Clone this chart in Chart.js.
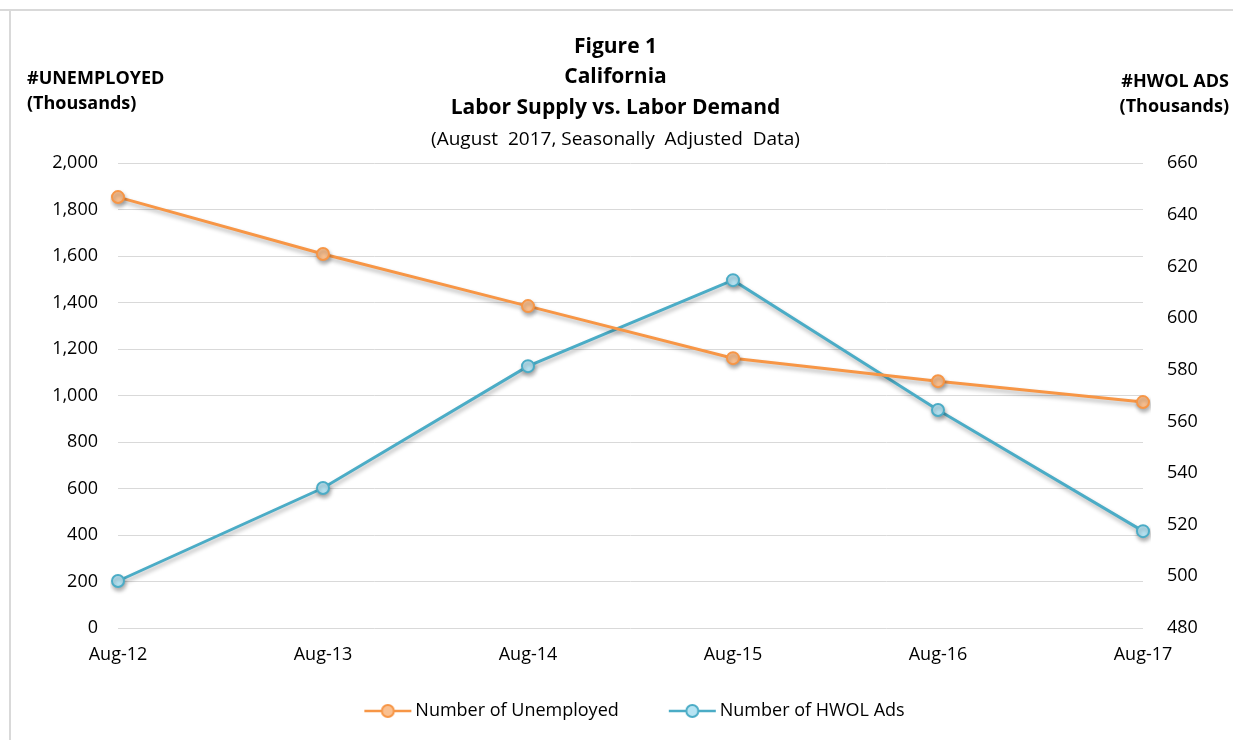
<!DOCTYPE html>
<html>
<head>
<meta charset="utf-8">
<script src="https://cdn.jsdelivr.net/npm/chart.js@4.4.0/dist/chart.umd.min.js"></script>
<style>
  body { margin: 0; background: #fff; }
  #wrap { width: 1233px; height: 740px; }
</style>
</head>
<body>
<div id="wrap"><canvas id="chart" width="1233" height="740"></canvas></div>
<script>
// data
var categories = ["Aug-12", "Aug-13", "Aug-14", "Aug-15", "Aug-16", "Aug-17"];
var unemployed = [1854, 1609, 1385, 1161, 1062, 972];     // thousands, left axis
var hwolAds = [498.2, 534.2, 581.4, 614.7, 564.4, 517.5];  // thousands, right axis
var leftTicks = [0, 200, 400, 600, 800, 1000, 1200, 1400, 1600, 1800, 2000];
var rightTicks = [480, 500, 520, 540, 560, 580, 600, 620, 640, 660];

var titleFont = "'Liberation Sans Narrow', 'Open Sans', sans-serif";
var tickFont = "'Open Sans', 'Noto Sans', sans-serif";
var orange = "#F79646", orangeFill = "#FAC090";
var blue = "#4BACC6", blueFill = "#B7E4F3";

// legend icon: line with a marker in the middle, blank gap on the left
// (canvas is wider than pointStyleWidth so the line sits close to the text)
function legendIcon(line, fill) {
    var c = document.createElement("canvas");
    c.width = 96; c.height = 16;
    var x = c.getContext("2d");
    x.strokeStyle = line; x.lineWidth = 2.5;
    x.beginPath(); x.moveTo(46, 8); x.lineTo(93, 8); x.stroke();
    x.beginPath(); x.arc(69.5, 8, 6, 0, Math.PI * 2);
    x.fillStyle = fill; x.fill(); x.lineWidth = 2; x.stroke();
    return c;
}

var frameAndLabels = {
    id: "frameAndLabels",
    beforeDraw: function (chart) {
        var ctx = chart.ctx;
        ctx.save();
        ctx.fillStyle = "#d9d9d9";
        ctx.fillRect(0, 9, 1233, 2);
        ctx.fillRect(9, 9, 2, 731);
        ctx.restore();
    },
    afterDraw: function (chart) {
        var ctx = chart.ctx;
        ctx.save();
        ctx.fillStyle = "#000";
        ctx.font = "bold 18px " + titleFont;
        ctx.textBaseline = "middle";
        ctx.textAlign = "left";
        ctx.fillText("#UNEMPLOYED", 27, 79);
        ctx.fillText("(Thousands)", 27, 104);
        ctx.textAlign = "right";
        ctx.fillText("#HWOL ADS", 1229, 82);
        ctx.fillText("(Thousands)", 1229, 107);
        ctx.restore();
    },
    beforeDatasetsDraw: function (chart) {
        var ctx = chart.ctx;
        ctx.save();
        ctx.shadowColor = "rgba(0,0,0,0.3)";
        ctx.shadowBlur = 4;
        ctx.shadowOffsetX = 1;
        ctx.shadowOffsetY = 3;
    },
    afterDatasetsDraw: function (chart) {
        chart.ctx.restore();
    }
};

new Chart(document.getElementById("chart"), {
    type: "line",
    data: {
        labels: categories,
        datasets: [{
            label: "Number of Unemployed",
            data: unemployed,
            yAxisID: "y",
            borderColor: orange,
            backgroundColor: orangeFill,
            pointBackgroundColor: orangeFill,
            pointBorderColor: orange,
            pointBorderWidth: 2,
            pointRadius: 6,
            borderWidth: 3,
            tension: 0
        }, {
            label: "Number of HWOL Ads",
            data: hwolAds,
            yAxisID: "y1",
            borderColor: blue,
            backgroundColor: blueFill,
            pointBackgroundColor: blueFill,
            pointBorderColor: blue,
            pointBorderWidth: 2,
            pointRadius: 6,
            borderWidth: 3,
            tension: 0
        }]
    },
    options: {
        responsive: false,
        animation: false,
        layout: { padding: { top: 5, left: 10, right: 12, bottom: 10 } },
        plugins: {
            title: {
                display: true,
                text: ["Figure 1", "California", "Labor Supply vs. Labor Demand"],
                color: "#000",
                font: { family: titleFont, size: 21, weight: "bold", lineHeight: 1.45 },
                padding: { top: 26.5, bottom: 0 }
            },
            subtitle: {
                display: true,
                text: "(August  2017, Seasonally  Adjusted  Data)",
                color: "#000",
                font: { family: titleFont, size: 19, lineHeight: 1.2 },
                padding: { top: 5.5, bottom: 12 }
            },
            legend: {
                position: "bottom",
                labels: {
                    usePointStyle: true,
                    pointStyleWidth: 80,
                    color: "#000",
                    font: { family: tickFont, size: 18 },
                    padding: 12,
                    generateLabels: function (chart) {
                        return chart.data.datasets.map(function (ds, i) {
                            return {
                                text: ds.label,
                                pointStyle: legendIcon(ds.borderColor, ds.pointBackgroundColor),
                                fontColor: "#000",
                                datasetIndex: i,
                                lineWidth: 0
                            };
                        });
                    }
                }
            },
            tooltip: { enabled: false }
        },
        scales: {
            x: {
                offset: false,
                grid: { display: false },
                border: { display: false },
                ticks: { color: "#000", font: { family: tickFont, size: 18 }, padding: 8, maxRotation: 0 },
                afterFit: function (s) { s.height = 62; }
            },
            y: {
                position: "left",
                min: 0, max: 2000,
                afterBuildTicks: function (s) { s.ticks = leftTicks.map(function (v) { return { value: v }; }); },
                grid: { color: "#d9d9d9", lineWidth: 1, drawTicks: false },
                border: { display: false },
                ticks: {
                    color: "#000", font: { family: tickFont, size: 18 }, padding: 20,
                    callback: function (v) { return v.toLocaleString("en-US"); }
                },
                afterFit: function (s) { s.width = 108; }
            },
            y1: {
                position: "right",
                min: 480, max: 660,
                afterBuildTicks: function (s) { s.ticks = rightTicks.map(function (v) { return { value: v }; }); },
                grid: { display: false, drawOnChartArea: false },
                border: { display: false },
                ticks: { color: "#000", font: { family: tickFont, size: 18 }, padding: 16 },
                afterFit: function (s) { s.width = 78; }
            }
        }
    },
    plugins: [frameAndLabels]
});
</script>
</body>
</html>
